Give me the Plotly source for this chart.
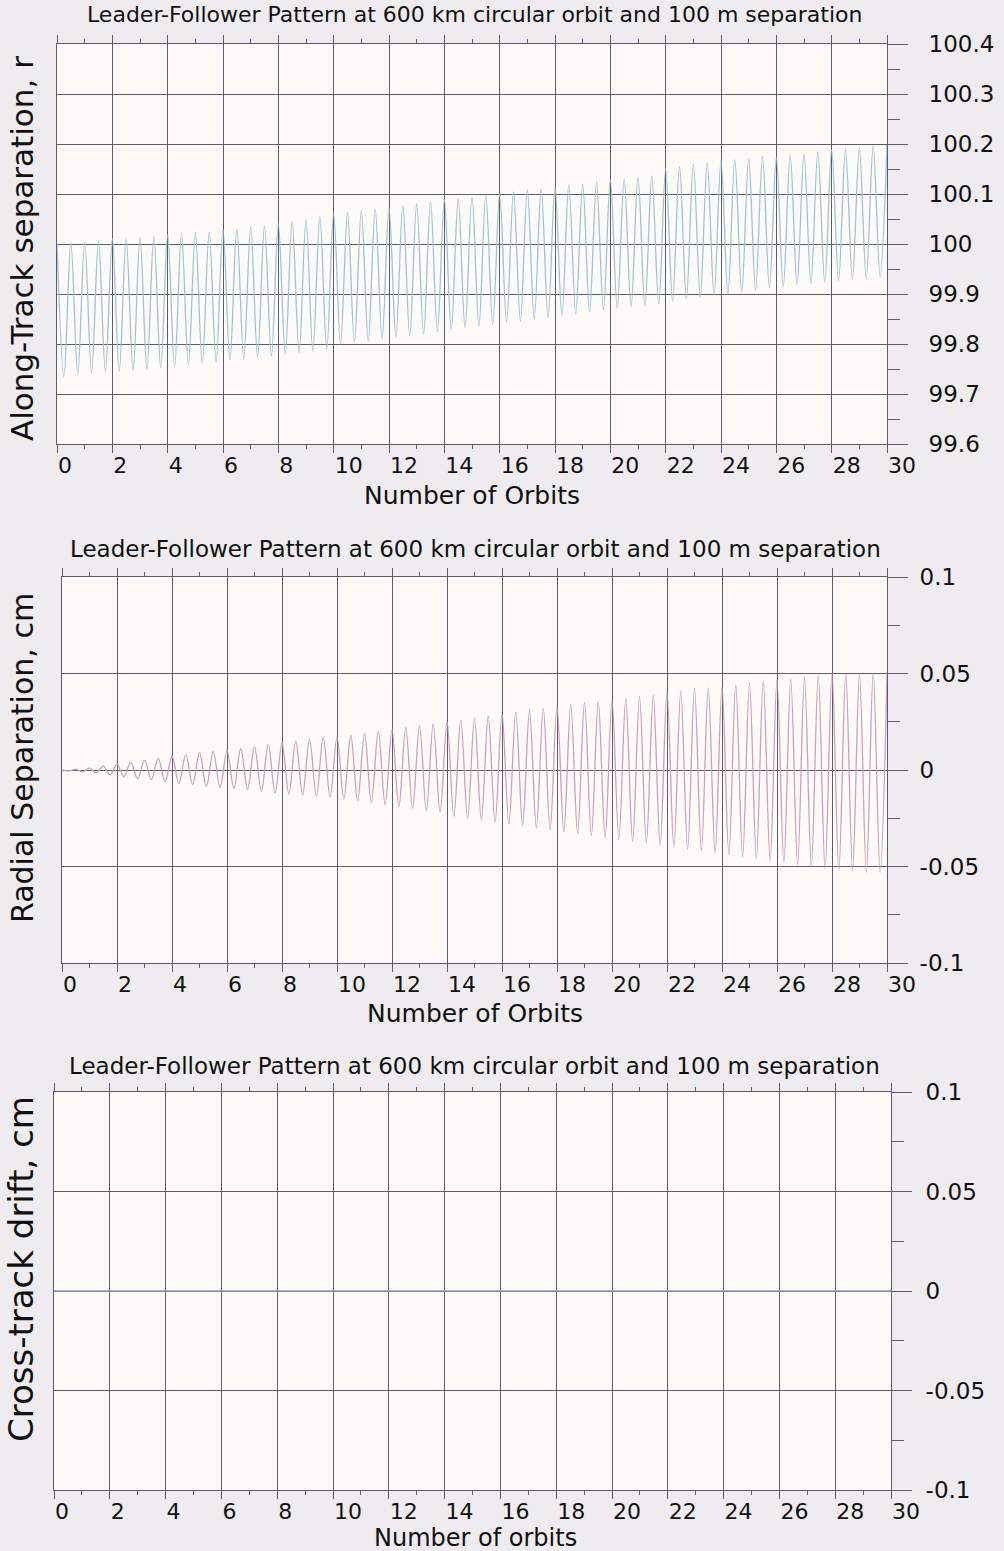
import plotly.graph_objects as go

# ---- Along-track separation (m): extrema of each half-orbit oscillation ----
along_peaks = [
    100.000, 100.002, 100.004, 100.006, 100.010, 100.010, 100.012, 100.015,
    100.018, 100.020, 100.022, 100.024, 100.028, 100.030, 100.034, 100.036,
    100.040, 100.044, 100.048, 100.054, 100.060, 100.063, 100.066, 100.070,
    100.072, 100.076, 100.080, 100.084, 100.088, 100.090, 100.094, 100.098,
    100.100, 100.104, 100.108, 100.110, 100.114, 100.118, 100.120, 100.124,
    100.128, 100.130, 100.134, 100.136, 100.150, 100.155, 100.160, 100.162,
    100.166, 100.168, 100.170, 100.175, 100.172, 100.178, 100.180, 100.184,
    100.188, 100.190, 100.192, 100.195, 100.198,
]
along_troughs = [
    99.735, 99.740, 99.742, 99.745, 99.745, 99.747, 99.750, 99.752,
    99.755, 99.758, 99.762, 99.764, 99.768, 99.770, 99.773, 99.776,
    99.780, 99.783, 99.786, 99.790, 99.800, 99.803, 99.806, 99.810,
    99.814, 99.817, 99.820, 99.824, 99.828, 99.832, 99.836, 99.839,
    99.843, 99.846, 99.850, 99.853, 99.857, 99.860, 99.864, 99.868,
    99.872, 99.874, 99.876, 99.880, 99.886, 99.890, 99.894, 99.898,
    99.900, 99.904, 99.908, 99.912, 99.915, 99.918, 99.921, 99.924,
    99.927, 99.930, 99.932, 99.935,
]

# ---- Radial separation (cm) ----
radial_peaks = [
    0.0000, 0.0005, 0.0010, 0.0020, 0.0030, 0.0040, 0.0050, 0.0060,
    0.0070, 0.0080, 0.0090, 0.0095, 0.0100, 0.0110, 0.0120, 0.0130,
    0.0140, 0.0150, 0.0160, 0.0170, 0.0170, 0.0180, 0.0190, 0.0200,
    0.0210, 0.0220, 0.0230, 0.0240, 0.0250, 0.0260, 0.0270, 0.0280,
    0.0290, 0.0300, 0.0310, 0.0320, 0.0330, 0.0340, 0.0350, 0.0355,
    0.0360, 0.0370, 0.0380, 0.0390, 0.0400, 0.0410, 0.0420, 0.0425,
    0.0430, 0.0440, 0.0450, 0.0460, 0.0470, 0.0470, 0.0480, 0.0490,
    0.0500, 0.0500, 0.0500, 0.0500, 0.0490,
]
radial_troughs = [
    -0.0005, -0.0010, -0.0015, -0.0025, -0.0035, -0.0045, -0.0050, -0.0060,
    -0.0070, -0.0075, -0.0085, -0.0090, -0.0095, -0.0100, -0.0110, -0.0120,
    -0.0125, -0.0130, -0.0135, -0.0140, -0.0150, -0.0160, -0.0170, -0.0180,
    -0.0190, -0.0200, -0.0210, -0.0220, -0.0240, -0.0250, -0.0260, -0.0270,
    -0.0280, -0.0290, -0.0300, -0.0310, -0.0320, -0.0330, -0.0340, -0.0350,
    -0.0360, -0.0370, -0.0380, -0.0390, -0.0400, -0.0410, -0.0420, -0.0430,
    -0.0440, -0.0450, -0.0460, -0.0470, -0.0480, -0.0490, -0.0500, -0.0510,
    -0.0520, -0.0520, -0.0530, -0.0530,
]

# ---- Cross-track drift (cm) ----
cross_orbits = [0, 30]
cross_drift = [0.0, 0.0]

# extrema alternate every quarter orbit: peak, trough, peak, ...
extremum_orbits = [k * 0.25 for k in range(len(along_peaks) + len(along_troughs))]


def interleave(peaks, troughs):
    out = []
    for i, p in enumerate(peaks):
        out.append(p)
        if i < len(troughs):
            out.append(troughs[i])
    return out


along_series = interleave(along_peaks, along_troughs)
radial_series = interleave(radial_peaks, radial_troughs)

orbit_ticks = list(range(0, 31, 2))
along_ticks = [99.6, 99.7, 99.8, 99.9, 100.0, 100.1, 100.2, 100.3, 100.4]
along_labels = ["99.6", "99.7", "99.8", "99.9", "100", "100.1", "100.2", "100.3", "100.4"]
small_ticks = [-0.1, -0.05, 0, 0.05, 0.1]
small_labels = ["-0.1", "-0.05", "0", "0.05", "0.1"]

TITLE = "Leader-Follower Pattern at 600 km circular orbit and 100 m separation"
FONT = "DejaVu Sans"
GRID = "#5c5c6c"
INK = "#111111"
W, H = 1004, 1551

fig = go.Figure()
fig.add_trace(go.Scatter(x=extremum_orbits, y=along_series, mode="lines",
                         line=dict(color="#9fc3d6", width=1.3, shape="spline"),
                         xaxis="x", yaxis="y", showlegend=False))
fig.add_trace(go.Scatter(x=extremum_orbits, y=radial_series, mode="lines",
                         line=dict(color="#c9a0bd", width=1.3, shape="spline"),
                         xaxis="x2", yaxis="y2", showlegend=False))
fig.add_trace(go.Scatter(x=cross_orbits, y=cross_drift, mode="lines",
                         line=dict(color="#8a9cc4", width=1.3),
                         xaxis="x3", yaxis="y3", showlegend=False))

# panel boxes in pixels: (left, top, right, bottom)
panels = [(57, 44, 887, 444), (62, 577, 887, 963), (54, 1092, 891, 1490)]


def xdom(l, r):
    return [l / W, r / W]


def ydom(t, b):
    return [1 - b / H, 1 - t / H]


def xaxis_cfg(l, r, anchor):
    return dict(
        domain=xdom(l, r), anchor=anchor, range=[0, 30], automargin=False,
        tickmode="array", tickvals=orbit_ticks, ticktext=[str(v) for v in orbit_ticks],
        ticks="outside", ticklen=8, tickcolor=GRID, tickwidth=1,
        minor=dict(dtick=1, tick0=1, ticks="outside", ticklen=4, tickcolor=GRID, showgrid=False),
        showgrid=True, gridcolor=GRID, gridwidth=1,
        showline=True, linecolor=GRID, linewidth=1, mirror="allticks",
        zeroline=False, fixedrange=True,
        tickfont=dict(family=FONT, size=22, color=INK),
        ticklabelposition="outside right",
        ticklabelstandoff=2,
    )


def yaxis_cfg(t, b, anchor, rng, vals, labels, minor_dtick, minor_t0, standoff):
    return dict(
        domain=ydom(t, b), anchor=anchor, range=rng, side="right", automargin=False,
        tickmode="array", tickvals=vals, ticktext=labels,
        ticks="outside", ticklen=20, tickcolor=GRID, tickwidth=1,
        minor=dict(dtick=minor_dtick, tick0=minor_t0, ticks="outside", ticklen=12,
                   tickcolor=GRID, showgrid=False),
        showgrid=True, gridcolor=GRID, gridwidth=1,
        showline=True, linecolor=GRID, linewidth=1, mirror=True,
        zeroline=False, fixedrange=True,
        tickfont=dict(family=FONT, size=23, color=INK),
        ticklabelstandoff=standoff,
    )


def left_ticks_cfg(over, anchor, rng, vals, minor_dtick, minor_t0):
    # short marks on the left frame edge: majors outward, minors inward
    return dict(
        overlaying=over, anchor=anchor, side="left", range=rng, automargin=False,
        tickmode="array", tickvals=vals, showticklabels=False,
        ticks="outside", ticklen=6, tickcolor=GRID, tickwidth=1,
        minor=dict(dtick=minor_dtick, tick0=minor_t0, ticks="inside", ticklen=5,
                   tickcolor=GRID, showgrid=False),
        showgrid=False, showline=False, zeroline=False, fixedrange=True,
    )


(l1, t1, r1, b1), (l2, t2, r2, b2), (l3, t3, r3, b3) = panels
fig.update_layout(
    width=W, height=H,
    margin=dict(l=0, r=0, t=0, b=0, autoexpand=False),
    paper_bgcolor="#eeecee",
    plot_bgcolor="#fdfaf7",
    showlegend=False,
    xaxis=xaxis_cfg(l1, r1, "y"),
    yaxis=yaxis_cfg(t1, b1, "x", [99.6, 100.4], along_ticks, along_labels, 0.1, 99.65, 16),
    xaxis2=xaxis_cfg(l2, r2, "y2"),
    yaxis2=yaxis_cfg(t2, b2, "x2", [-0.1, 0.1], small_ticks, small_labels, 0.05, -0.075, 7),
    xaxis3=xaxis_cfg(l3, r3, "y3"),
    yaxis3=yaxis_cfg(t3, b3, "x3", [-0.1, 0.1], small_ticks, small_labels, 0.05, -0.075, 9),
    yaxis4=left_ticks_cfg("y", "x", [99.6, 100.4], along_ticks, 0.1, 99.65),
    yaxis5=left_ticks_cfg("y2", "x2", [-0.1, 0.1], small_ticks, 0.05, -0.075),
    yaxis6=left_ticks_cfg("y3", "x3", [-0.1, 0.1], small_ticks, 0.05, -0.075),
)


def label(text, px, py, size, angle=0):
    fig.add_annotation(text=text, x=px / W, y=1 - py / H, xref="paper", yref="paper",
                       showarrow=False, textangle=angle, xanchor="center", yanchor="middle",
                       font=dict(family=FONT, size=size, color=INK))


# panel titles
label(TITLE, 474, 15, 22)
label(TITLE, 475, 549, 23)
label(TITLE, 474, 1066, 23)
# x-axis titles
label("Number of Orbits", 472, 495, 25)
label("Number of Orbits", 475, 1013, 25)
label("Number of orbits", 475, 1538, 24)
# y-axis titles
label("Along-Track separation, r", 22, 249, 31, -90)
label("Radial Separation, cm", 22, 758, 30, -90)
label("Cross-track drift, cm", 21, 1269, 34, -90)

fig.write_html("out.html")
